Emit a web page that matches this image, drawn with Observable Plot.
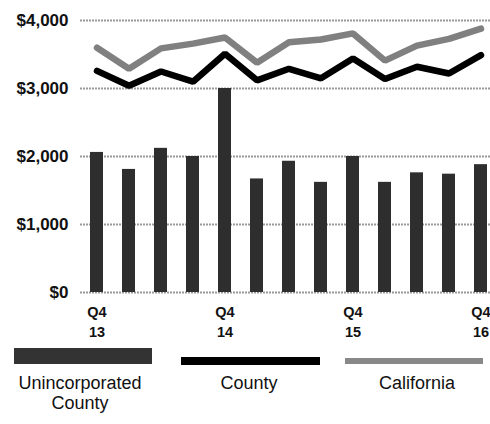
<!DOCTYPE html>
<html>
<head>
<meta charset="utf-8">
<script src="https://cdn.jsdelivr.net/npm/d3@7"></script>
<script src="https://cdn.jsdelivr.net/npm/@observablehq/plot@0.6"></script>
<style>
  html, body { margin: 0; padding: 0; background: #fff; }
  #wrap { position: relative; width: 490px; height: 424px; overflow: hidden; font-family: "Liberation Sans", Arial, sans-serif; }
  #chart svg { display: block; }
  .sw { position: absolute; }
  .lab { position: absolute; font-size: 18px; color: #111; text-align: center; line-height: 20px; width: 170px; }
</style>
</head>
<body>
<div id="wrap">
  <div id="chart"></div>
  <div class="sw" style="left:14px;top:348px;width:138px;height:16px;background:#333;"></div>
  <div class="sw" style="left:181px;top:357px;width:139px;height:8px;background:#000;"></div>
  <div class="sw" style="left:345px;top:358px;width:138px;height:6px;background:#888;"></div>
  <div class="lab" style="left:-5px;top:373px;">Unincorporated<br>County</div>
  <div class="lab" style="left:164px;top:373px;">County</div>
  <div class="lab" style="left:332px;top:373px;">California</div>
</div>
<script>
const quarters = ["Q4 13","Q1 14","Q2 14","Q3 14","Q4 14","Q1 15","Q2 15","Q3 15","Q4 15","Q1 16","Q2 16","Q3 16","Q4 16"];
const unincorporated = [2060, 1810, 2120, 2000, 3000, 1670, 1930, 1620, 2000, 1620, 1760, 1740, 1880];
const county = [3260, 3040, 3250, 3100, 3510, 3120, 3290, 3150, 3440, 3140, 3320, 3220, 3490];
const california = [3600, 3290, 3590, 3660, 3750, 3380, 3680, 3720, 3810, 3410, 3630, 3730, 3880];
const tickLabels = ["Q4 13","Q4 14","Q4 15","Q4 16"];
const yTicks = [0, 1000, 2000, 3000, 4000];

const rows = quarters.map((q, i) => ({q, u: unincorporated[i], c: county[i], ca: california[i]}));

const plot = Plot.plot({
  width: 490,
  height: 340,
  marginLeft: 80,
  marginRight: 0,
  marginTop: 20,
  marginBottom: 48,
  style: {fontFamily: "'Liberation Sans', Arial, sans-serif", background: "#fff", overflow: "visible"},
  x: {domain: quarters, range: [80, 498], paddingInner: 0.58, paddingOuter: 0.29, label: null},
  y: {domain: [0, 4000], label: null},
  marks: [
    Plot.ruleY(yTicks, {stroke: "#9a9a9a", strokeWidth: 2, strokeDasharray: "2,1"}),
    Plot.barY(rows, {x: "q", y: "u", fill: "#2e2e2e"}),
    Plot.lineY(rows, {x: "q", y: "ca", stroke: "#808080", strokeWidth: 6.5, strokeLinejoin: "miter"}),
    Plot.lineY(rows, {x: "q", y: "c", stroke: "#000", strokeWidth: 6.5, strokeLinejoin: "miter"}),
    Plot.axisY({ticks: yTicks, tickFormat: d => "$" + d3.format(",")(d), tickSize: 0, tickPadding: 12, fontSize: 17, fontWeight: "bold", fill: "#111"}),
    Plot.axisX({ticks: tickLabels, tickFormat: d => d.replace(" ", "\n"), tickSize: 0, tickPadding: 11, fontSize: 14.5, fontWeight: "bold", lineHeight: 1.35, fill: "#111"})
  ]
});
document.getElementById("chart").appendChild(plot);
</script>
</body>
</html>
